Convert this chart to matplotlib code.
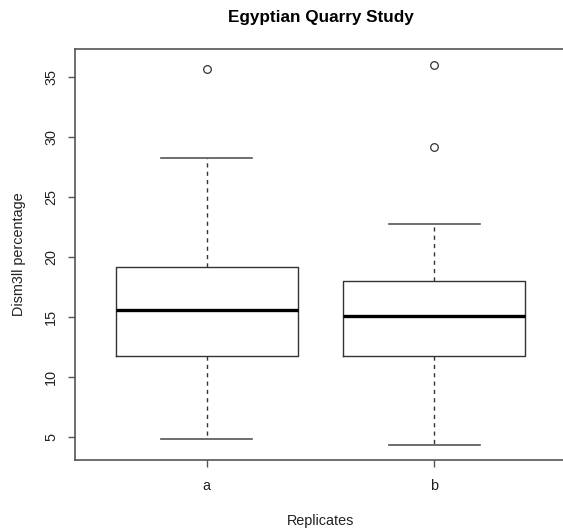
import matplotlib
matplotlib.use("Agg")
import matplotlib.pyplot as plt

plt.rcParams['font.family'] = ['Liberation Sans', 'DejaVu Sans']

# five-number summaries
groups = ["a", "b"]
whislo = [4.9, 4.4]
q1 = [11.8, 11.8]
medians = [15.6, 15.1]
q3 = [19.2, 18.0]
whishi = [28.3, 22.8]
fliers = [[35.7], [36.0, 29.2]]

stats = []
for i, g in enumerate(groups):
    stats.append({
        "label": g,
        "whislo": whislo[i],
        "q1": q1[i],
        "med": medians[i],
        "q3": q3[i],
        "whishi": whishi[i],
        "fliers": fliers[i],
    })

fig = plt.figure(figsize=(5.63, 5.29), dpi=100)
ax = fig.add_axes([0.1327, 0.1304, 0.8727, 0.7764])

ax.bxp(stats, positions=[1, 2], widths=0.8, showfliers=True,
       boxprops=dict(color="#333333", linewidth=1.0),
       medianprops=dict(color="black", linewidth=2.4),
       whiskerprops=dict(color="#333333", linewidth=1.0, linestyle=(0, (3, 3))),
       capprops=dict(color="#555555", linewidth=1.2),
       capwidths=0.4,
       flierprops=dict(marker="o", markerfacecolor="none",
                       markeredgecolor="#333333", markersize=5.5,
                       markeredgewidth=0.9))

ax.set_xlim(0.42, 2.58)
ax.set_ylim(3.11, 37.33)
ax.set_yticks([5, 10, 15, 20, 25, 30, 35])
ax.set_xticks([1, 2])
ax.set_xticklabels(groups)

for s in ax.spines.values():
    s.set_color("#555555")
    s.set_linewidth(1.2)

ax.tick_params(axis="both", length=5, width=1.0, color="#555555",
               labelsize=10.4, labelcolor="#222222")
ax.tick_params(axis="x", pad=9)
ax.tick_params(axis="y", pad=7)
for lab in ax.get_yticklabels():
    lab.set_rotation(90)
    lab.set_va("center")

ax.set_xlabel("Replicates", fontsize=10.4, labelpad=15, color="#222222")
ax.set_ylabel("Dism3ll percentage", fontsize=10.4, labelpad=13, color="#222222")
ax.set_title("Egyptian Quarry Study", fontsize=12.3, fontweight="bold", pad=19.5)

fig.savefig("out.png", dpi=100)
